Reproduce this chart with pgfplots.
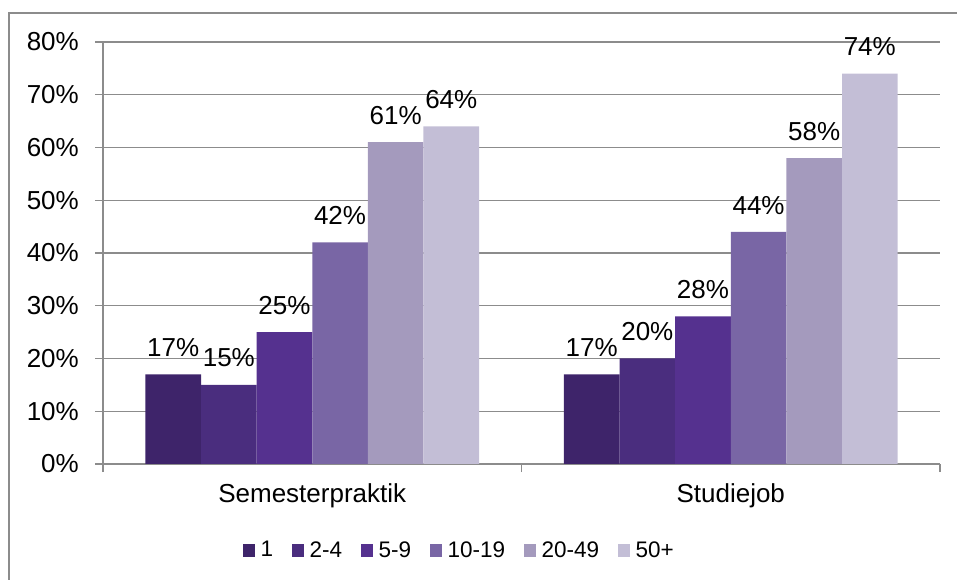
\documentclass[border=0pt]{standalone}
\usepackage{fontspec}
\setmainfont{Liberation Sans}
\usepackage{pgfplots}
\pgfplotsset{compat=1.18}
\definecolor{cA}{HTML}{3E246A}
\definecolor{cB}{HTML}{4A2D7E}
\definecolor{cC}{HTML}{55318F}
\definecolor{cD}{HTML}{7966A5}
\definecolor{cE}{HTML}{A49ABD}
\definecolor{cF}{HTML}{C3BED6}
\definecolor{gridgray}{HTML}{8C8C8C}
\begin{document}
\begin{tikzpicture}
\begin{axis}[
  at={(0pt,0pt)}, anchor=south west,
  width=837pt, height=422pt, scale only axis,
  ybar=0pt, bar width=0.1329,
  xmin=-0.5, xmax=1.5, ymin=0, ymax=80,
  xtick={-0.5,0.5,1.5}, xticklabels={},
  extra x ticks={0,1},
  extra x tick labels={Semesterpraktik,Studiejob},
  extra x tick style={major tick length=0pt},
  ytick={0,10,...,80},
  yticklabels={0\%,10\%,20\%,30\%,40\%,50\%,60\%,70\%,80\%},
  axis x line*=bottom, axis y line*=left,
  axis line style={draw=gridgray, line width=1.2pt, -},
  tick align=outside,
  major tick length=8pt,
  tick style={draw=gridgray, line width=1.2pt},
  ymajorgrids,
  major grid style={draw=gridgray, line width=1.2pt},
  /pgf/number format/assume math mode=true,
  yticklabel style={font=\fontsize{26}{30}\selectfont, anchor=east, inner sep=0pt, xshift=-16pt},
  xticklabel style={font=\fontsize{26}{30}\selectfont, anchor=base, inner sep=0pt, yshift=-38pt},
  nodes near coords={\pgfmathprintnumber{\pgfplotspointmeta}\%},
  every node near coord/.append style={font=\fontsize{26}{30}\selectfont, inner sep=0pt, yshift=17.5pt, text=black},
  legend columns=6,
  legend style={at={(0.1673,-0.2038)}, anchor=west, draw=none, fill=none,
    inner sep=0pt, outer sep=0pt, font=\fontsize{22.5}{26}\selectfont,
    nodes={inner sep=0pt},
    /tikz/every odd column/.append style={column sep=5.5pt},
    /tikz/every even column/.append style={column sep=19pt}},
  legend image code/.code={\path[#1, draw=none] (0pt,-6.5pt) rectangle (12pt,6.5pt);},
]
\addplot[fill=cA, draw=none] coordinates {(0,17) (1,17)};
\addlegendentry{1}
\addplot[fill=cB, draw=none] coordinates {(0,15) (1,20)};
\addlegendentry{2-4}
\addplot[fill=cC, draw=none] coordinates {(0,25) (1,28)};
\addlegendentry{5-9}
\addplot[fill=cD, draw=none] coordinates {(0,42) (1,44)};
\addlegendentry{10-19}
\addplot[fill=cE, draw=none] coordinates {(0,61) (1,58)};
\addlegendentry{20-49}
\addplot[fill=cF, draw=none] coordinates {(0,64) (1,74)};
\addlegendentry{50+}
\end{axis}
\pgfresetboundingbox
\path[use as bounding box] (-103pt,-116pt) rectangle (854pt,464pt);
\draw[gridgray, line width=1.2pt] (-94pt,-130pt) -- (-94pt,451pt) -- (870pt,451pt);
\end{tikzpicture}
\end{document}
